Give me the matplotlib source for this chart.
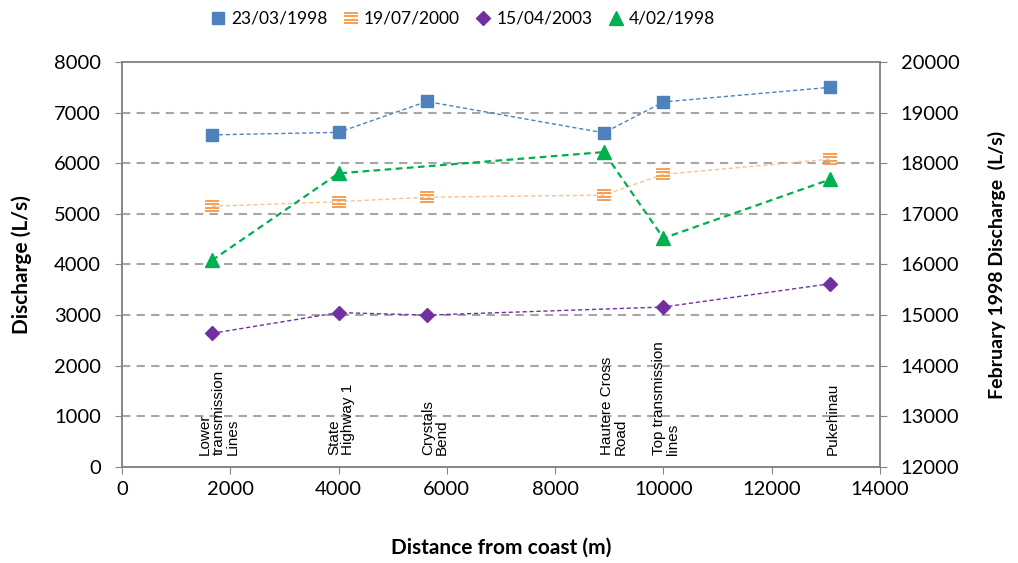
import matplotlib.pyplot as plt
from matplotlib.path import Path

# site positions (distance from coast, m)
sites = ["Lower\ntransmission\nLines", "State\nHighway 1", "Crystals\nBend",
         "Hautere Cross\nRoad", "Top transmission\nlines", "Pukehinau"]
label_x = [1400, 3790, 5520, 8830, 9790, 13000]

site_x = [1660, 4000, 5630, 8900, 10000, 13080]
d_1998_03 = [6560, 6610, 7220, 6600, 7210, 7500]
d_2000_07 = [5150, 5240, 5330, 5370, 5780, 6080]
apr_x = [1660, 4000, 5630, 10000, 13080]
d_2003_04 = [2640, 3050, 3000, 3160, 3620]
feb_x = [1660, 4000, 8900, 10000, 13080]
d_1998_02 = [16080, 17800, 18220, 16520, 17680]

# custom marker: stack of horizontal dashes
verts, codes = [], []
for yy in [-0.75, -0.25, 0.25, 0.75]:
    verts += [(-1, yy), (1, yy)]
    codes += [Path.MOVETO, Path.LINETO]
dash_marker = Path(verts, codes)

axfont = ["Lato", "DejaVu Sans"]
fig = plt.figure(figsize=(10.18, 5.63), dpi=100)
ax = fig.add_axes([0.1198, 0.1705, 0.7446, 0.7194])
ax2 = ax.twinx()

ax.set_xlim(0, 14000)
ax.set_ylim(0, 8000)
ax2.set_ylim(12000, 20000)

for v in range(1000, 8000, 1000):
    ax.axhline(v, color="#a6a6a6", lw=1.5, ls=(0, (4, 3)), zorder=0)

l1, = ax.plot(site_x, d_1998_03, ls=(0, (3, 2)), lw=1, color="#4f81bd",
              marker="s", ms=9, mfc="#4f81bd", mec="#4f81bd", label="23/03/1998")
l2, = ax.plot(site_x, d_2000_07, ls=(0, (3, 2)), lw=1, color="#fac090",
              marker=dash_marker, ms=10, mec="#f79646", mew=1.3, label="19/07/2000")
l3, = ax.plot(apr_x, d_2003_04, ls=(0, (3, 2)), lw=1, color="#7030a0",
              marker="D", ms=7.5, mfc="#7030a0", mec="#7030a0", label="15/04/2003")
l4, = ax2.plot(feb_x, d_1998_02, ls=(0, (3, 2)), lw=1.6, color="#00b050",
               marker="^", ms=10, mfc="#00b050", mec="#00b050", label="4/02/1998")

for txt, x in zip(sites, label_x):
    ax.text(x, 240, txt, rotation=90, ha="left", va="bottom", fontsize=11,
            family=["Liberation Sans", "DejaVu Sans"], linespacing=1.0)

for a in (ax, ax2):
    for s in a.spines.values():
        s.set_color("#868686")
        s.set_linewidth(1.2)
ax.spines["top"].set_color("#a6a6a6")

ax.set_xticks(range(0, 14001, 2000))
ax.set_yticks(range(0, 8001, 1000))
ax2.set_yticks(range(12000, 20001, 1000))
ax.tick_params(axis="both", direction="out", length=5, color="#868686",
               labelsize=14.5)
ax.tick_params(axis="y", pad=10)
ax.tick_params(axis="x", pad=5)
ax2.tick_params(axis="y", direction="out", length=5, color="#868686",
                labelsize=14.5, pad=10)
for lab in ax.get_xticklabels() + ax.get_yticklabels() + ax2.get_yticklabels():
    lab.set_family(axfont)

ax.set_xlabel("Distance from coast (m)", fontsize=15, fontweight="bold",
              family=axfont, va="center")
ax.xaxis.set_label_coords(0.5, -0.2)
ax.set_ylabel("Discharge (L/s)", fontsize=15, fontweight="bold",
              family=axfont, va="center")
ax.yaxis.set_label_coords(-0.132, 0.5)
ax2.set_ylabel("February 1998 Discharge  (L/s)", fontsize=14, fontweight="bold",
               family=axfont, va="center")
ax2.yaxis.set_label_coords(1.154, 0.5)

fig.legend(handles=[l1, l2, l3, l4], loc="center", bbox_to_anchor=(0.455, 0.967),
           ncol=4, frameon=False, prop={"family": axfont, "size": 12.5},
           handlelength=0.8, handletextpad=0.35, columnspacing=0.95)
for h in fig.legends[0].legend_handles:
    h.set_linestyle("none")

fig.savefig("out.png", dpi=100)
